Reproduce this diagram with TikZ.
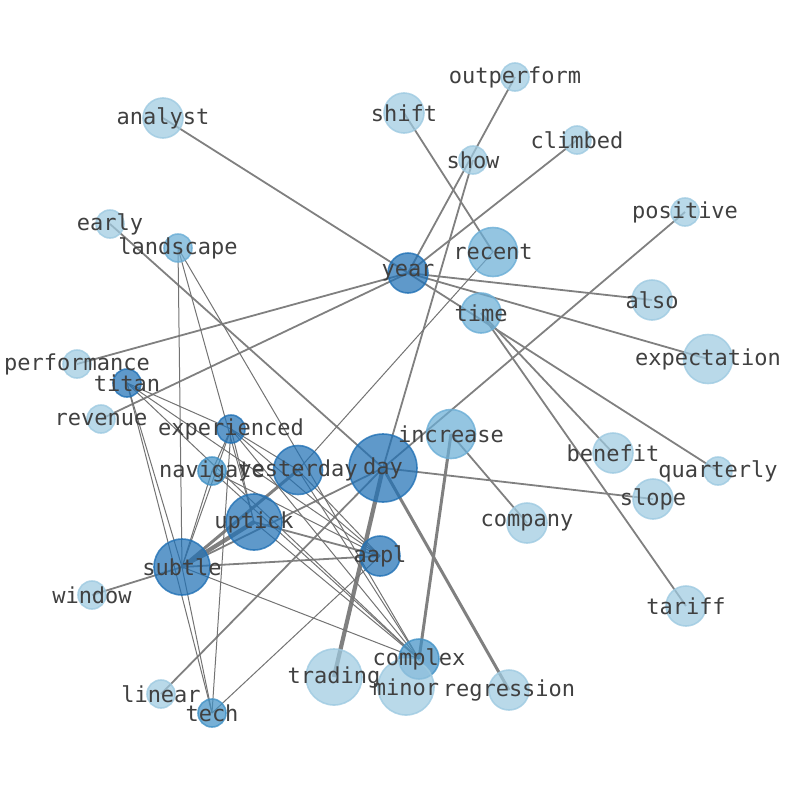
\documentclass[tikz,border=0pt]{standalone}
\usepackage{fontspec}
\setmonofont{DejaVu Sans Mono}
\usetikzlibrary{backgrounds}

\definecolor{bluea}{RGB}{33,113,181}
\definecolor{blueb}{RGB}{66,146,198}
\definecolor{bluec}{RGB}{107,174,214}
\definecolor{blued}{RGB}{158,202,225}
\definecolor{labelgray}{RGB}{64,64,64}

\begin{document}
\begin{tikzpicture}[x=1pt, y=-1pt,
  word/.style = {circle, inner sep=0pt, fill opacity=0.72, draw opacity=0.8, line width=1.6pt},
  wa/.style = {word, fill=bluea, draw=bluea},
  wb/.style = {word, fill=blueb, draw=blueb},
  wc/.style = {word, fill=bluec, draw=bluec},
  wd/.style = {word, fill=blued, draw=blued},
  s/.style = {minimum size=28pt},
  m/.style = {minimum size=40pt},
  l/.style = {minimum size=49pt},
  xl/.style = {minimum size=56pt},
  xxl/.style = {minimum size=68pt},
  edge/.style = {draw=gray, line width=1.8pt},
  thin/.style = {draw=gray!90!black, line width=1pt},
  wide/.style = {draw=gray, line width=3pt},
  wider/.style = {draw=gray, line width=4.2pt},
  lbl/.style = {font=\ttfamily\fontsize{22}{22}\selectfont, text=labelgray, inner sep=0pt}]
\path[use as bounding box] (0,0) rectangle (794,790);

%hubs
\node[wa, xxl] (day) at (383,468) {};
\node[wa, m] (year) at (408,273) {};
\node[wa, l] (yesterday) at (298,470) {};
\node[wa, xl] (uptick) at (254,522) {};
\node[wa, xl] (subtle) at (182,567) {};
\node[wa, m] (aapl) at (380,556) {};
\node[wa, s] (experienced) at (231,429) {};
\node[wa, s] (titan) at (127,383) {};
\node[wb, s] (navigate) at (212,471) {};
\node[wb, s] (tech) at (212,713) {};
\node[wb, m] (complex) at (419,659) {};
\node[wc, s] (landscape) at (178,248) {};
\node[wc, l] (recent) at (493,252) {};
\node[wc, m] (time) at (481,313) {};
\node[wc, l] (increase) at (451,434) {};

%leaves
\node[wd, s] (outperform) at (515,77) {};
\node[wd, m] (shift) at (404,113) {};
\node[wd, m] (analyst) at (163,118) {};
\node[wd, s] (show) at (473,160) {};
\node[wd, s] (climbed) at (577,140) {};
\node[wd, s] (early) at (110,224) {};
\node[wd, s] (positive) at (685,212) {};
\node[wd, m] (also) at (652,300) {};
\node[wd, l] (expectation) at (708,359) {};
\node[wd, s] (performance) at (77,364) {};
\node[wd, s] (revenue) at (101,419) {};
\node[wd, m] (benefit) at (613,453) {};
\node[wd, s] (quarterly) at (718,471) {};
\node[wd, m] (slope) at (653,499) {};
\node[wd, m] (company) at (527,523) {};
\node[wd, s] (window) at (92,595) {};
\node[wd, m] (tariff) at (686,606) {};
\node[wd, xl] (trading) at (334,677) {};
\node[wd, xl] (minor) at (406,687) {};
\node[wd, m] (regression) at (509,690) {};
\node[wd, s] (linear) at (161,694) {};

%edges
\begin{scope}[on background layer]
\draw[edge] (year.center) -- (analyst.center);
\draw[edge] (year.center) -- (outperform.center);
\draw[edge] (year.center) -- (climbed.center);
\draw[edge] (year.center) -- (performance.center);
\draw[edge] (year.center) -- (revenue.center);
\draw[edge] (year.center) -- (also.center);
\draw[edge] (year.center) -- (expectation.center);
\draw[edge] (year.center) -- (quarterly.center);
\draw[edge] (shift.center) -- (recent.center);
\draw[edge] (time.center) -- (benefit.center);
\draw[edge] (time.center) -- (tariff.center);
\draw[edge] (day.center) -- (show.center);
\draw[edge] (day.center) -- (early.center);
\draw[edge] (day.center) -- (positive.center);
\draw[edge] (day.center) -- (slope.center);
\draw[edge] (day.center) -- (linear.center);
\draw[wide] (day.center) -- (regression.center);
\draw[wider] (day.center) -- (trading.center);
\draw[edge] (increase.center) -- (company.center);
\draw[wide] (increase.center) -- (complex.center);
\draw[edge] (subtle.center) -- (window.center);
\draw[edge] (subtle.center) -- (aapl.center);
\draw[wider] (subtle.center) -- (uptick.center);
\draw[wide] (subtle.center) -- (yesterday.center);
\draw[edge] (subtle.center) -- (day.center);
\draw[edge] (uptick.center) -- (aapl.center);

\draw[thin] (recent.center) -- (yesterday.center);
\draw[thin] (titan.center) -- (experienced.center);
\draw[thin] (titan.center) -- (aapl.center);
\draw[thin] (titan.center) -- (complex.center);
\draw[thin] (titan.center) -- (tech.center);
\draw[thin] (titan.center) -- (subtle.center);
\draw[thin] (landscape.center) -- (subtle.center);
\draw[thin] (landscape.center) -- (uptick.center);
\draw[thin] (landscape.center) -- (complex.center);
\draw[thin] (experienced.center) -- (navigate.center);
\draw[thin] (experienced.center) -- (subtle.center);
\draw[thin] (experienced.center) -- (tech.center);
\draw[thin] (experienced.center) -- (uptick.center);
\draw[thin] (experienced.center) -- (yesterday.center);
\draw[thin] (experienced.center) -- (aapl.center);
\draw[thin] (experienced.center) -- (complex.center);
\draw[thin] (navigate.center) -- (subtle.center);
\draw[thin] (navigate.center) -- (aapl.center);
\draw[thin] (navigate.center) -- (complex.center);
\draw[thin] (subtle.center) -- (complex.center);
\draw[thin] (subtle.center) -- (tech.center);
\draw[thin] (tech.center) -- (aapl.center);
\draw[thin] (yesterday.center) -- (aapl.center);
\draw[thin] (yesterday.center) -- (complex.center);
\draw[thin] (uptick.center) -- (complex.center);
\end{scope}

%labels
\foreach \w in {day,year,yesterday,uptick,subtle,aapl,experienced,titan,navigate,tech,complex,
  landscape,recent,time,increase,outperform,shift,analyst,show,climbed,early,positive,also,
  expectation,performance,revenue,benefit,quarterly,slope,company,window,tariff,trading,minor,
  regression,linear}
  \node[lbl] (\w-t) at (\w) {\w};
\end{tikzpicture}
\end{document}
